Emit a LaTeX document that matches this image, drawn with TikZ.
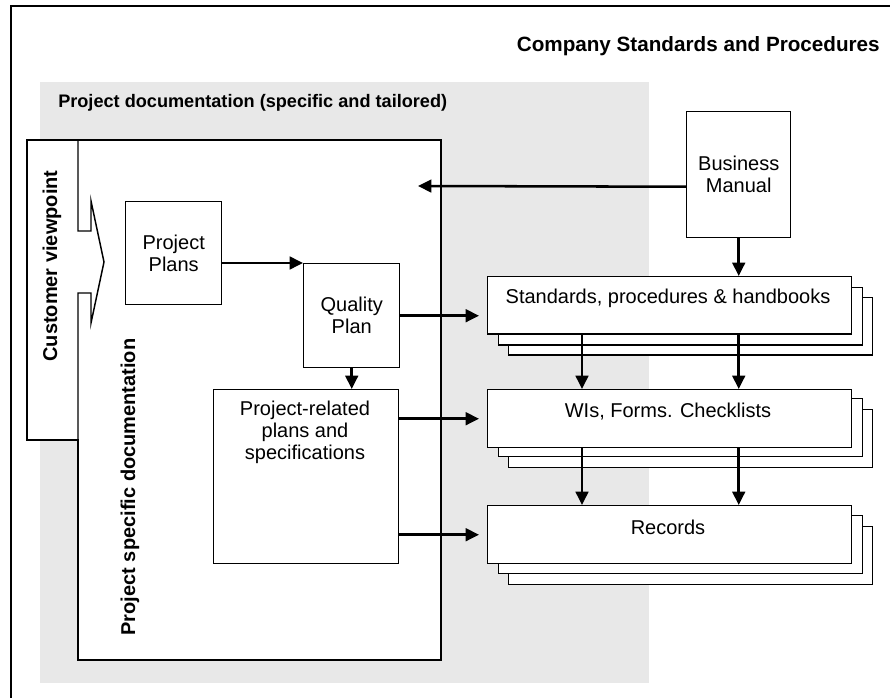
\documentclass[tikz,border=0pt]{standalone}
\usepackage{fontspec}
\setmainfont{Liberation Sans}
\usetikzlibrary{arrows.meta,calc}
\definecolor{panelgrey}{RGB}{232,232,232}
\begin{document}
\begin{tikzpicture}[x=0.75pt,y=-0.75pt,
  box/.style={draw,fill=white,line width=1.1pt,inner sep=0pt,anchor=north west},
  stackbox/.style={box,minimum width=273pt,minimum height=43.5pt},
  lbl/.style={font=\fontsize{15}{16.5}\selectfont,align=center,inner sep=0pt},
  ttl/.style={font=\fontsize{15}{18}\selectfont\bfseries,inner sep=0pt},
  arr/.style={line width=1.9pt,-{Triangle[length=10pt,width=9.5pt]}},
  gaparr/.style={arr,shorten >=6pt},
]
\useasboundingbox (0,0) rectangle (890,698);
\fill[white] (0,0) rectangle (890,698);

% outer frame of the company area
\draw[line width=0.9pt] (11,698) -- (11,6) -- (890,6);
\node[ttl,anchor=east,font=\fontsize{15.5}{18}\selectfont\bfseries] (company) at (880,46) {Company Standards and Procedures};

% grey project documentation panel
\fill[panelgrey] (40,82) rectangle (649,683);
\node[ttl,anchor=west,font=\fontsize{13.6}{16}\selectfont\bfseries] (projdoc) at (58,103) {Project documentation (specific and tailored)};

% project specific documentation box with the customer viewpoint tab
\draw[line width=1.1pt,fill=white] (27,140) -- (441,140) -- (441,660) -- (78,660) -- (78,440) -- (27,440) -- cycle;
\draw[line width=1.1pt,line join=miter] (78,140) -- (78,231) -- (91,231) -- (91,201) -- (104,262)
  -- (91,323) -- (91,293) -- (78,293) -- (78,440);
\node[ttl,rotate=90] (custview) at (52,266) {Customer viewpoint};
\node[ttl,rotate=90] (projspec) at (130,487) {Project specific documentation};
\coordinate (mainedge) at (418,186);

% project boxes
\node[box,minimum width=72pt,minimum height=77.25pt] (pp) at (125,201) {};
\node[lbl] (ppt) at (pp.center) {Project\\Plans};
\node[box,minimum width=72pt,minimum height=78pt] (qp) at (303,263) {};
\node[lbl] (qpt) at (qp.center) {Quality\\Plan};
\node[box,minimum width=138.75pt,minimum height=130.5pt] (pr) at (213,389) {};
\node[lbl] (prt) at (305,432) {Project-related\\plans and\\specifications};

% company standards
\node[box,minimum width=78pt,minimum height=94.5pt] (bm) at (686,111) {};
\node[lbl] (bmt) at (bm.center) {Business\\Manual};

\node[stackbox,minimum height=43pt] (std3) at (508,297) {};
\node[stackbox,minimum height=43pt] (std2) at (498,287) {};
\node[stackbox,minimum height=43pt] (std) at (487,276) {};
\node[lbl] (stdt) at (668,298) {Standards, procedures \& handbooks};

\node[stackbox] (wis3) at (508,409) {};
\node[stackbox] (wis2) at (498,398) {};
\node[stackbox] (wis) at (487,389) {};
\node[lbl] (wist) at (668,412) {WIs, Forms. Checklists};

\node[stackbox] (rec3) at (508,526) {};
\node[stackbox] (rec2) at (498,515) {};
\node[stackbox] (rec) at (487,505) {};
\node[lbl] (rect) at (668,527) {Records};

\coordinate (colA) at (582,0);

% connectors
\draw[arr] ($(bm.west)+(0,12)$) -- (mainedge);
\draw[arr] (bm.south) -- (bm.south |- std.north);
\draw[arr] (pp.east |- qp.north west) -- (qp.north west);
\draw[gaparr] (qp.east) -- (qp.east -| std.west);
\draw[arr] (qp.south) -- (qp.south |- pr.north);
\draw[arr] (std.south -| colA) -- (wis.north -| colA);
\draw[arr] (std.south -| bm.south) -- (wis.north -| bm.south);
\draw[arr] (wis.south -| colA) -- (rec.north -| colA);
\draw[arr] (wis.south -| bm.south) -- (rec.north -| bm.south);
\draw[gaparr] (pr.east |- wis.west) -- (wis.west);
\draw[gaparr] (pr.east |- rec.west) -- (rec.west);
\end{tikzpicture}
\end{document}
